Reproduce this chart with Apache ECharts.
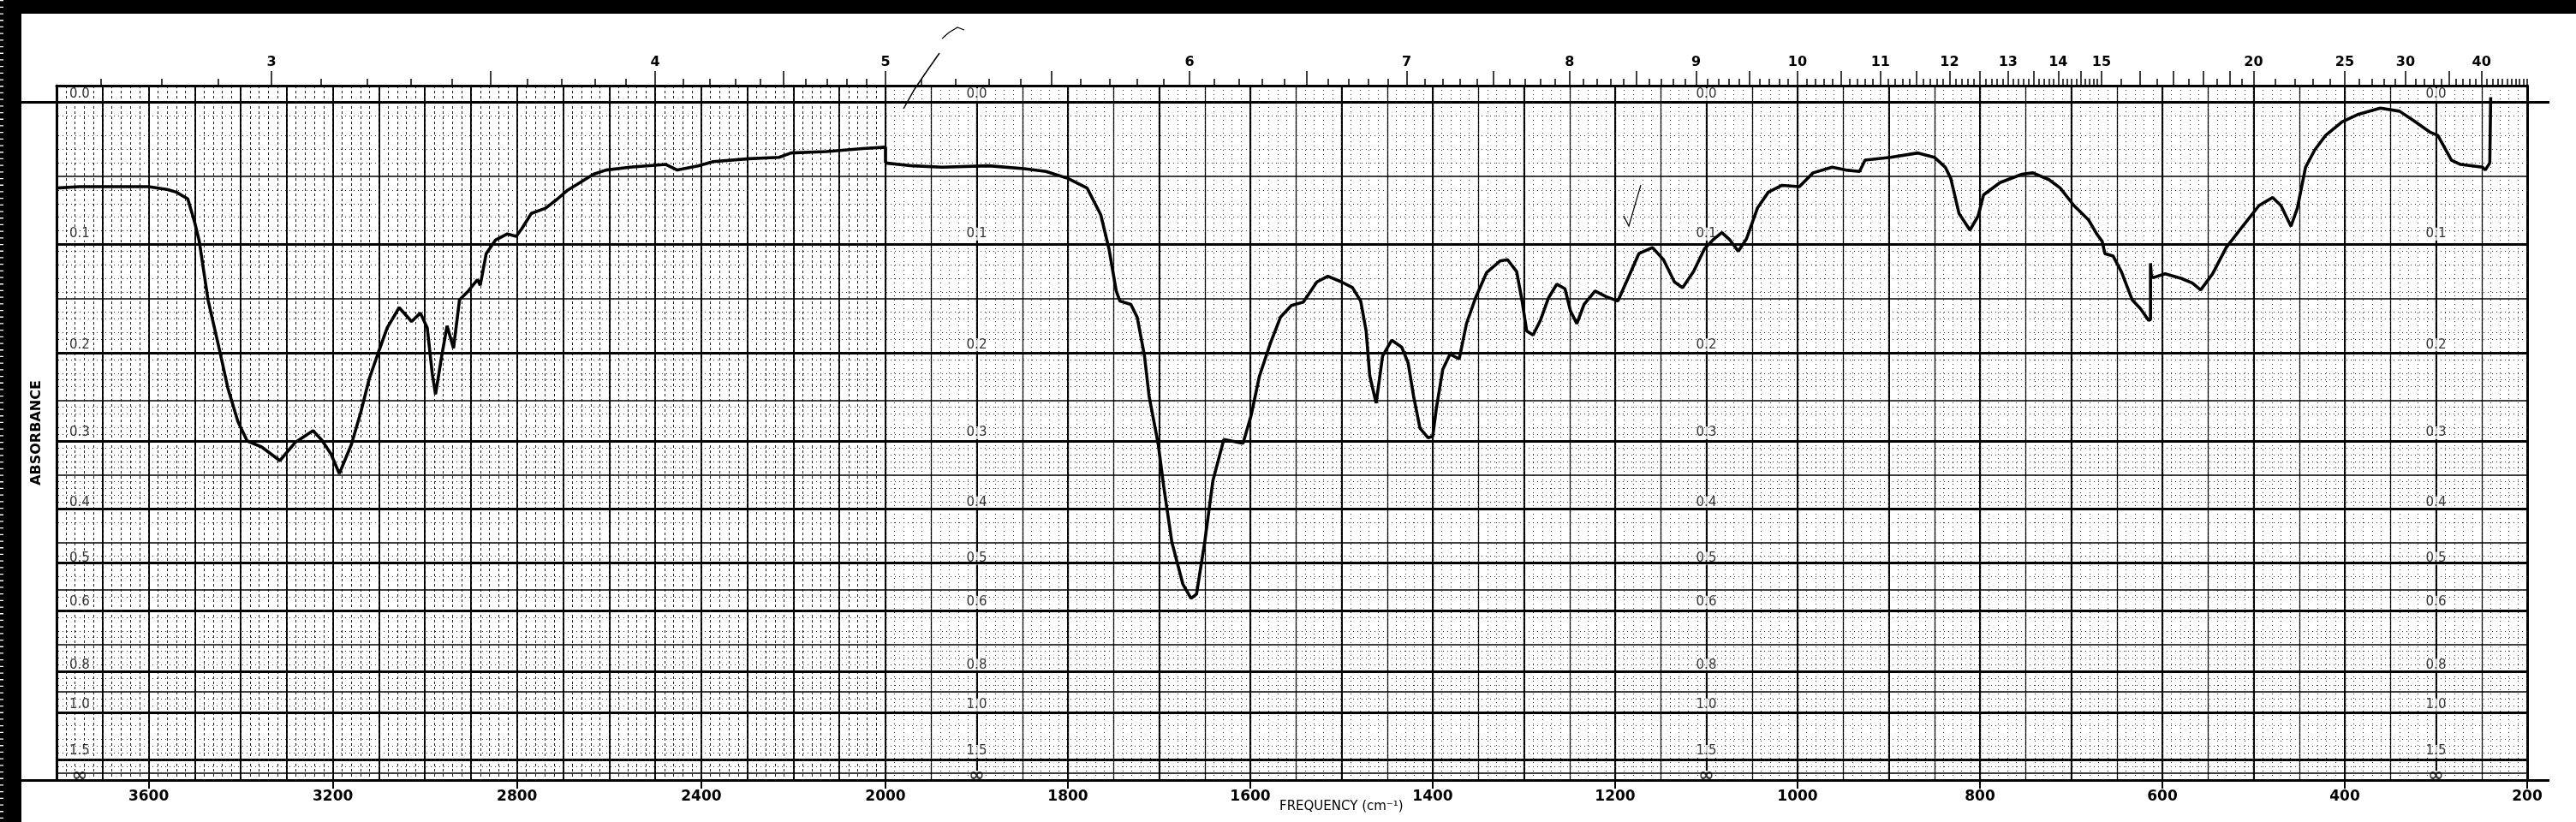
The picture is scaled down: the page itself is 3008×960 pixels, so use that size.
<!DOCTYPE html>
<html><head><meta charset="utf-8">
<script src="https://cdn.jsdelivr.net/npm/echarts/dist/echarts.min.js"></script>
<style>html,body{margin:0;padding:0;background:#fff}#c{width:3008px;height:960px}</style>
</head><body><div id="c"></div><script>
// ---- spectrum data (wavenumber cm^-1, absorbance) ----
const wavenumberLeft = [3800,3750,3700,3650,3600,3560,3540,3515,3500,3490,3471,3445,3428,3406,3386,3354,3315,3282,3243,3224,3204,3186,3160,3140,3121,3101,3082,3056,3029,3010,2995,2984,2977,2964,2952,2938,2925,2906,2886,2880,2867,2847,2821,2802,2790,2769,2738,2712,2692,2634,2607,2555,2477,2452,2407,2374,2296,2231,2205,2128,2049,2000,2000];
const absorbanceLeft = [0.059,0.058,0.058,0.058,0.058,0.060,0.062,0.067,0.085,0.100,0.150,0.200,0.238,0.277,0.301,0.309,0.327,0.303,0.288,0.300,0.318,0.345,0.306,0.267,0.228,0.200,0.176,0.157,0.170,0.162,0.176,0.223,0.245,0.205,0.174,0.196,0.150,0.142,0.132,0.137,0.110,0.099,0.094,0.096,0.090,0.078,0.074,0.067,0.061,0.049,0.046,0.044,0.042,0.046,0.043,0.040,0.038,0.037,0.034,0.033,0.031,0.030,0.041];
const wavenumberRight = [2000,1970,1938,1887,1848,1824,1800,1779,1764,1755,1747,1743,1731,1724,1716,1711,1701,1695,1686,1674,1665,1659,1650,1641,1629,1608,1599,1590,1578,1567,1555,1542,1527,1515,1500,1488,1479,1473,1469,1462,1455,1445,1434,1427,1421,1414,1405,1400,1396,1389,1381,1371,1363,1353,1341,1326,1318,1308,1302,1297,1290,1282,1273,1264,1255,1249,1242,1234,1222,1210,1197,1186,1174,1159,1147,1135,1126,1114,1102,1093,1083,1074,1065,1056,1044,1032,1017,998,983,962,947,932,926,898,868,850,838,832,823,811,802,796,778,754,742,724,712,697,681,672,666,663,654,645,633,624,615,613,613,612,609,597,579,567,558,545,530,512,494,479,470,459,452,443,433,421,403,385,361,340,325,306,298,283,273,249,246,241,240];
const absorbanceRight = [0.041,0.043,0.044,0.043,0.045,0.047,0.052,0.059,0.079,0.106,0.142,0.151,0.154,0.166,0.204,0.247,0.305,0.363,0.455,0.539,0.572,0.562,0.455,0.355,0.299,0.304,0.269,0.225,0.191,0.166,0.155,0.152,0.134,0.129,0.134,0.139,0.151,0.179,0.225,0.255,0.204,0.188,0.195,0.211,0.247,0.285,0.297,0.295,0.261,0.218,0.202,0.207,0.172,0.148,0.126,0.116,0.115,0.125,0.151,0.179,0.183,0.169,0.148,0.136,0.140,0.160,0.172,0.154,0.142,0.147,0.151,0.131,0.110,0.105,0.115,0.134,0.139,0.125,0.106,0.099,0.093,0.099,0.108,0.098,0.074,0.062,0.057,0.058,0.048,0.044,0.046,0.047,0.039,0.037,0.034,0.037,0.044,0.052,0.078,0.091,0.080,0.064,0.055,0.049,0.048,0.053,0.059,0.072,0.083,0.094,0.100,0.110,0.112,0.125,0.150,0.158,0.169,0.168,0.118,0.130,0.130,0.127,0.131,0.135,0.141,0.127,0.105,0.088,0.072,0.066,0.072,0.088,0.074,0.044,0.032,0.022,0.013,0.008,0.004,0.006,0.012,0.020,0.022,0.039,0.042,0.044,0.046,0.041,-0.003];

// ---- axis labels ----
const freqLabelsLeft = [3600,3200,2800,2400];
const freqLabelsRight = [2000,1800,1600,1400,1200,1000,800,600,400,200];
const wavelengthLabels = [3,4,5,6,7,8,9,10,11,12,13,14,15,20,25,30,40];
const absLabelValues = [0,0.1,0.2,0.3,0.4,0.5,0.6,0.8,1.0,1.5,Infinity];
const absLabelTexts = ['0.0','0.1','0.2','0.3','0.4','0.5','0.6','0.8','1.0','1.5','\u221E'];
const absLabelColumnsLeft = [3750];
const absLabelColumnsRight = [1900,1100,300];
const absHeavy = [0,0.1,0.2,0.3,0.4,0.5,0.6,0.8,1.0,1.5];
const absMedium = [0.05,0.15,0.25,0.35,0.45,0.55,0.7,0.9,2.0];

// ---- helpers ----
const T = a => (a === Infinity ? 0 : Math.pow(10, -a));
const pts = (nu, ab) => nu.map((v, i) => [v, T(ab[i])]);
const FONT = 'DejaVu Sans';

// fine absorbance grid levels
const used = new Set(absHeavy.concat(absMedium).map(v => v.toFixed(3)));
const absFine = [];
for (let i = 1; i < 40; i++) absFine.push(i / 100);
for (let k = 17; k < 40; k++) absFine.push(k * 0.025);
for (let k = 11; k < 20; k++) absFine.push(k / 10);
const absFineF = absFine.filter(v => !used.has(v.toFixed(3)));

// wavelength ticks
const wlTicks = [];
for (let i = 27; i <= 150; i++) wlTicks.push([i / 10, i % 5 === 0]);
for (let i = 31; i <= 40; i++) wlTicks.push([i / 2, i % 2 === 0]);
for (let l = 21; l <= 50; l++) wlTicks.push([l, l % 5 === 0 && l <= 40]);
const nuOf = l => 10000 / l;
const minorL = wlTicks.filter(t => !t[1] && nuOf(t[0]) > 2000.0001).map(t => nuOf(t[0]));
const majorL = wlTicks.filter(t => t[1] && nuOf(t[0]) > 2000.0001).map(t => nuOf(t[0]));
const minorR = wlTicks.filter(t => !t[1] && nuOf(t[0]) <= 2000.0001).map(t => nuOf(t[0]));
const majorR = wlTicks.filter(t => t[1] && nuOf(t[0]) <= 2000.0001).map(t => nuOf(t[0]));
const wlLabL = wavelengthLabels.filter(l => nuOf(l) > 2000.0001).map(nuOf);
const wlLabR = wavelengthLabels.filter(l => nuOf(l) <= 2000.0001).map(nuOf);

const hidden = {axisLine:{show:false}, axisTick:{show:false}, axisLabel:{show:false}};
function gridAxis(gi, min, max, interval, style) {
  return Object.assign({type:'value', gridIndex:gi, min, max, inverse:true, interval, position:'bottom',
    splitLine:{show:true, lineStyle:style}}, hidden);
}
function bottomAxis(gi, min, max, labs) {
  return {type:'value', gridIndex:gi, min, max, inverse:true, position:'bottom',
    axisLine:{show:true, lineStyle:{color:'#000', width:3}},
    axisTick:{show:true, customValues:labs, length:10, lineStyle:{color:'#000', width:2}},
    axisLabel:{show:true, customValues:labs, margin:11, color:'#000', fontFamily:FONT, fontSize:17,
      fontWeight:'bold', formatter: v => String(Math.round(v))},
    splitLine:{show:false}};
}
function topMinor(gi, min, max, ticks) {
  return {type:'value', gridIndex:gi, min, max, inverse:true, position:'top',
    axisLine:{show:true, lineStyle:{color:'#000', width:3}},
    axisTick:{show:true, customValues:ticks, length:8, lineStyle:{color:'#000', width:1.5}},
    axisLabel:{show:false}, splitLine:{show:false}};
}
function topMajor(gi, min, max, ticks, labs) {
  return {type:'value', gridIndex:gi, min, max, inverse:true, position:'top',
    axisLine:{show:false},
    axisTick:{show:true, customValues:ticks, length:17, lineStyle:{color:'#000', width:1.5}},
    axisLabel:{show:true, customValues:labs, margin:19, color:'#000', fontFamily:FONT, fontSize:16,
      fontWeight:'bold', formatter: v => String(Math.round(10000 / v))},
    splitLine:{show:false}};
}

const heavyStyle = {color:'#000', width:3, type:'solid'};
const medStyle = {color:'#000', width:1.6, type:'solid'};
const fineStyle = {color:'#333', width:1, type:[1,4]};
function hLineData() {
  return absHeavy.map(a => ({yAxis:T(a), lineStyle:heavyStyle}))
    .concat(absMedium.map(a => ({yAxis:T(a), lineStyle:medStyle})))
    .concat(absFineF.map(a => ({yAxis:T(a), lineStyle:fineStyle})));
}
function labelData(cols) {
  const d = [];
  cols.forEach(c => absLabelValues.forEach((a, i) => {
    const item = {value:[c, T(a)], name:absLabelTexts[i]};
    if (a === Infinity) item.label = {show:true, position:'inside', offset:[0,-5], fontSize:22, fontWeight:'bold', lineHeight:12, padding:0};
    d.push(item);
  }));
  return d;
}
const labelSeries = (xi, yi, cols) => ({
  type:'scatter', xAxisIndex:xi, yAxisIndex:yi, symbolSize:0, z:4, silent:true,
  data: labelData(cols),
  label:{show:true, position:'top', distance:1, formatter:p => p.name, color:'#000',
    fontFamily:FONT, fontSize:15, backgroundColor:'#fff', padding:[0,1]}
});
const gridLineSeries = (xi, yi) => ({
  type:'line', xAxisIndex:xi, yAxisIndex:yi, data:[], showSymbol:false, z:1, silent:true,
  markLine:{silent:true, symbol:['none','none'], label:{show:false}, animation:false, data:hLineData()}
});

const YMAX = 1.024;
const option = {
  animation:false,
  backgroundColor:'#fff',
  title:{text:'FREQUENCY (cm\u207B\u00B9)', left:1494, top:935, padding:0,
    textStyle:{fontFamily:FONT, fontSize:15, fontWeight:'normal', color:'#000'}},
  grid:[
    {left:66, top:100, width:968, height:811},
    {left:1034, top:100, width:1917, height:811},
    {left:25, top:100, width:2952, height:811}
  ],
  xAxis:[
    bottomAxis(0, 2000, 3800, freqLabelsLeft),                                   //0
    gridAxis(0, 2000, 3800, 100, {color:'#000', width:2}),                        //1
    gridAxis(0, 2000, 3800, 20, {color:'#222', width:1, type:[3,3]}),            //2
    topMinor(0, 2000, 3800, minorL),                                              //3
    topMajor(0, 2000, 3800, majorL, wlLabL),                                      //4
    bottomAxis(1, 200, 2000, freqLabelsRight),                                    //5
    gridAxis(1, 200, 2000, 100, {color:'#000', width:2}),                         //6
    gridAxis(1, 200, 2000, 50, {color:'#000', width:1.3}),                        //7
    gridAxis(1, 200, 2000, 10, {color:'#333', width:1, type:[1,4]}),             //8
    topMinor(1, 200, 2000, minorR),                                               //9
    topMajor(1, 200, 2000, majorR, wlLabR),                                       //10
    Object.assign({type:'value', gridIndex:2, min:0, max:1, splitLine:{show:false}}, hidden) //11
  ],
  yAxis:[
    {type:'value', gridIndex:0, min:0, max:YMAX, position:'left',
      axisLine:{show:true, lineStyle:{color:'#000', width:3}}, axisTick:{show:false}, axisLabel:{show:false},
      splitLine:{show:false}, name:'ABSORBANCE', nameLocation:'middle', nameRotate:90, nameGap:15,
      nameTextStyle:{fontFamily:FONT, fontSize:16, fontWeight:'bold', color:'#000'}},
    {type:'value', gridIndex:1, min:0, max:YMAX, position:'right',
      axisLine:{show:true, lineStyle:{color:'#000', width:3}}, axisTick:{show:false}, axisLabel:{show:false},
      splitLine:{show:false}},
    Object.assign({type:'value', gridIndex:2, min:0, max:YMAX, splitLine:{show:false}}, hidden)
  ],
  series:[
    gridLineSeries(0, 0),
    gridLineSeries(5, 1),
    {type:'line', xAxisIndex:11, yAxisIndex:2, data:[], showSymbol:false, z:1, silent:true,
      markLine:{silent:true, symbol:['none','none'], label:{show:false}, animation:false,
        data:[{yAxis:T(0), lineStyle:heavyStyle}, {yAxis:T(Infinity), lineStyle:heavyStyle}]}},
    labelSeries(0, 0, absLabelColumnsLeft),
    labelSeries(5, 1, absLabelColumnsRight),
    {type:'line', name:'spectrum-left', xAxisIndex:0, yAxisIndex:0, data:pts(wavenumberLeft, absorbanceLeft),
      showSymbol:false, symbol:'none', z:6, lineStyle:{color:'#000', width:3.6}, silent:true},
    {type:'line', name:'spectrum-right', xAxisIndex:5, yAxisIndex:1, data:pts(wavenumberRight, absorbanceRight),
      showSymbol:false, symbol:'none', z:6, lineStyle:{color:'#000', width:3.6}, silent:true}
  ],
  graphic:[
    {type:'rect', z:100, shape:{x:0, y:0, width:3008, height:16}, style:{fill:'#000'}},
    {type:'rect', z:100, shape:{x:0, y:0, width:25, height:960}, style:{fill:'#000'}},
    {type:'line', z:101, shape:{x1:2, y1:0, x2:2, y2:960}, style:{stroke:'#fff', lineWidth:4, lineDash:[1.3,6.4]}},
    {type:'polyline', z:50, shape:{points:[[1055,127],[1068,104],[1083,82],[1097,62]]}, style:{stroke:'#000', lineWidth:1.5, fill:null}},
    {type:'polyline', z:50, shape:{points:[[1100,45],[1108,38],[1118,32],[1126,35]]}, style:{stroke:'#000', lineWidth:1.2, fill:null}},
    {type:'polyline', z:50, shape:{points:[[1896,252],[1902,264],[1916,216]]}, style:{stroke:'#000', lineWidth:1.2, fill:null}}
  ]
};
const chart = echarts.init(document.getElementById('c'), null, {renderer:'canvas', width:3008, height:960});
chart.setOption(option);
</script></body></html>
